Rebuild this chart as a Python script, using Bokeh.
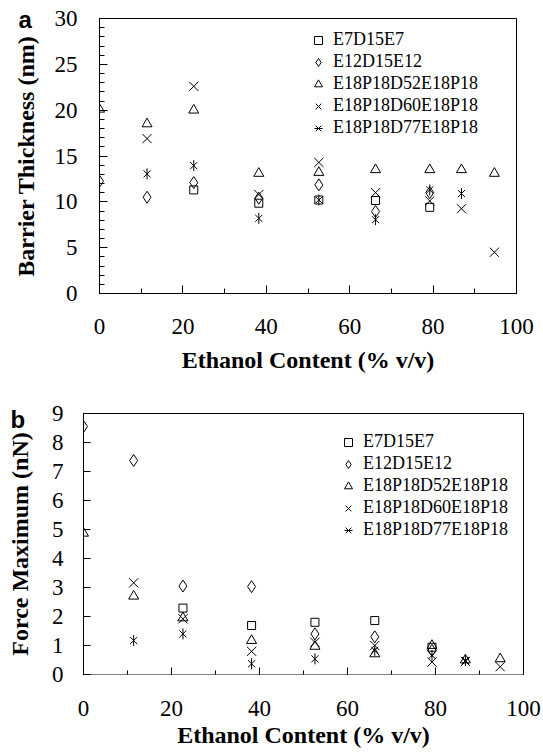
import math
from bokeh.plotting import figure
from bokeh.models import Range1d, SingleIntervalTicker, LinearAxis, Legend, LegendItem, Title
from bokeh.embed import file_html
from bokeh.resources import INLINE

series_names = ["E7D15E7", "E12D15E12", "E18P18D52E18P18", "E18P18D60E18P18", "E18P18D77E18P18"]

# ---- Panel a: Barrier Thickness (nm) ----
a_E7_x = [22.6, 38.2, 52.6, 66.2, 79.2]
a_E7_y = [11.3, 9.85, 10.2, 10.15, 9.4]
a_E12_x = [0, 11.4, 22.6, 38.2, 52.6, 66.2, 79.2]
a_E12_y = [12.25, 10.5, 12.1, 10.4, 11.85, 8.95, 11.0]
a_D52_x = [0, 11.4, 22.6, 38.2, 52.6, 66.2, 79.2, 86.8, 94.7]
a_D52_y = [20.1, 18.5, 20.0, 13.1, 13.2, 13.5, 13.5, 13.5, 13.1]
a_D60_x = [11.4, 22.6, 38.2, 52.6, 66.2, 79.2, 86.8, 94.7]
a_D60_y = [16.9, 22.6, 10.8, 14.3, 11.0, 10.1, 9.25, 4.5]
a_D77_x = [11.4, 22.6, 38.2, 52.6, 66.2, 79.2, 86.8]
a_D77_y = [13.05, 13.95, 8.2, 10.2, 8.05, 11.3, 10.9]

# ---- Panel b: Force Maximum (nN) ----
b_E7_x = [22.6, 38.2, 52.6, 66.2, 79.2]
b_E7_y = [2.29, 1.69, 1.80, 1.86, 0.94]
b_E12_x = [0, 11.4, 22.6, 38.2, 52.6, 66.2, 79.2]
b_E12_y = [8.55, 7.38, 3.05, 3.03, 1.40, 1.30, 0.83]
b_D52_x = [0, 11.4, 22.6, 38.2, 52.6, 66.2, 79.2, 86.8, 94.7]
b_D52_y = [4.87, 2.7, 1.95, 1.17, 0.97, 0.71, 1.0, 0.5, 0.54]
b_D60_x = [11.4, 22.6, 38.2, 52.6, 66.2, 79.2, 86.8, 94.7]
b_D60_y = [3.16, 1.92, 0.8, 1.11, 1.0, 0.43, 0.45, 0.27]
b_D77_x = [11.4, 22.6, 38.2, 52.6, 66.2, 79.2, 86.8]
b_D77_y = [1.17, 1.4, 0.37, 0.54, 0.83, 0.66, 0.48]

SERIF = "Liberation Serif"


def style_axis(ax, tick_in, minor_in, label_standoff, title_standoff, dash=None):
    ax.axis_line_color = "black"
    ax.axis_line_width = 1
    if dash:
        ax.axis_line_dash = dash
    ax.major_tick_in = tick_in
    ax.major_tick_out = 0
    ax.minor_tick_in = minor_in
    ax.minor_tick_out = 0
    ax.major_tick_line_color = "black"
    ax.minor_tick_line_color = "black" if minor_in > 0 else None
    ax.major_label_text_font = SERIF
    ax.major_label_text_font_size = "23px"
    ax.major_label_text_color = "black"
    ax.major_label_standoff = label_standoff
    ax.axis_label_text_font = SERIF
    ax.axis_label_text_font_size = "24px"
    ax.axis_label_text_font_style = "bold"
    ax.axis_label_text_color = "black"
    ax.axis_label_standoff = title_standoff


def make_panel(height, borders, ymax, yint, yminor, ylabel, data, legend_loc, letter, letter_offset,
               letter_standoff, ytick_in, yminor_in, xtick_in, xminor_in, xlab_standoff,
               xtitle_standoff, ylab_standoff, ytitle_standoff, dotted_bottom):
    left, right, top, bottom = borders
    title = Title(text=letter, align="left", offset=letter_offset, standoff=letter_standoff,
                  text_font="Liberation Sans", text_font_style="bold", text_font_size="24px",
                  text_color="black")
    p = figure(width=543, height=height, output_backend="svg", toolbar_location=None,
               x_range=Range1d(0, 100), y_range=Range1d(0, ymax),
               min_border_left=left, min_border_right=right,
               min_border_top=top, min_border_bottom=bottom,
               x_axis_label="Ethanol Content (% v/v)", y_axis_label=ylabel, title=title)
    p.grid.visible = False
    p.background_fill_color = "white"
    p.border_fill_color = "white"
    p.xaxis.ticker = SingleIntervalTicker(interval=20, num_minor_ticks=2)
    p.yaxis.ticker = SingleIntervalTicker(interval=yint, num_minor_ticks=yminor)
    style_axis(p.xaxis[0], xtick_in, xminor_in, xlab_standoff, xtitle_standoff,
               dash="1 1" if dotted_bottom else None)
    style_axis(p.yaxis[0], ytick_in, yminor_in, ylab_standoff, ytitle_standoff)
    if dotted_bottom:
        p.outline_line_color = None
        for loc in ("above", "right"):
            ax = LinearAxis(major_tick_in=0, major_tick_out=0, minor_tick_in=0, minor_tick_out=0,
                            major_label_text_font_size="0px", axis_line_color="black",
                            major_tick_line_color=None, minor_tick_line_color=None)
            ax.major_label_text_color = None
            p.add_layout(ax, loc)
    else:
        p.outline_line_color = "black"
        p.outline_line_width = 1
        p.outline_line_alpha = 1

    common = dict(line_color="black", line_width=1, fill_alpha=0)
    (e7x, e7y), (e12x, e12y), (d52x, d52y), (d60x, d60y), (d77x, d77y) = data
    r_sq = p.scatter(e7x, e7y, marker="square", size=8, **common)
    r_di = p.scatter(e12x, e12y, marker="diamond", size=12, **common)
    r_tr = p.scatter(d52x, d52y, marker="triangle", size=10, **common)
    r_x = p.scatter(d60x, d60y, marker="x", size=13, **common)
    r_ax = p.scatter(d77x, d77y, marker="x", size=10, **common)
    r_av = p.scatter(d77x, d77y, marker="dash", size=11, angle=math.pi / 2, **common)

    items = [LegendItem(label=series_names[0], renderers=[r_sq]),
             LegendItem(label=series_names[1], renderers=[r_di]),
             LegendItem(label=series_names[2], renderers=[r_tr]),
             LegendItem(label=series_names[3], renderers=[r_x]),
             LegendItem(label=series_names[4], renderers=[r_ax, r_av])]
    leg = Legend(items=items, location=legend_loc, border_line_color=None,
                 background_fill_alpha=0, label_text_font=SERIF, label_text_font_size="18px",
                 label_text_color="black", glyph_width=20, glyph_height=20, label_height=20,
                 spacing=1, padding=0, margin=0, label_standoff=5)
    p.add_layout(leg, "center")
    return p


pa = make_panel(380, (99, 27, 18, 87), 30, 5, 5, "Barrier Thickness (nm)",
                [(a_E7_x, a_E7_y), (a_E12_x, a_E12_y), (a_D52_x, a_D52_y),
                 (a_D60_x, a_D60_y), (a_D77_x, a_D77_y)],
                (209, 155), "a", -81, -28,
                ytick_in=8, yminor_in=5, xtick_in=8, xminor_in=5,
                xlab_standoff=25, xtitle_standoff=10, ylab_standoff=22, ytitle_standoff=13,
                dotted_bottom=False)

pb = make_panel(374, (83, 20, 33, 80), 9, 1, 0, "Force Maximum (nN)",
                [(b_E7_x, b_E7_y), (b_E12_x, b_E12_y), (b_D52_x, b_D52_y),
                 (b_D60_x, b_D60_y), (b_D77_x, b_D77_y)],
                (255, 134), "b", -73, -38,
                ytick_in=7, yminor_in=0, xtick_in=7, xminor_in=4,
                xlab_standoff=26, xtitle_standoff=3, ylab_standoff=20, ytitle_standoff=16,
                dotted_bottom=True)

open("out.html", "w").write(file_html([pa, pb], INLINE))
